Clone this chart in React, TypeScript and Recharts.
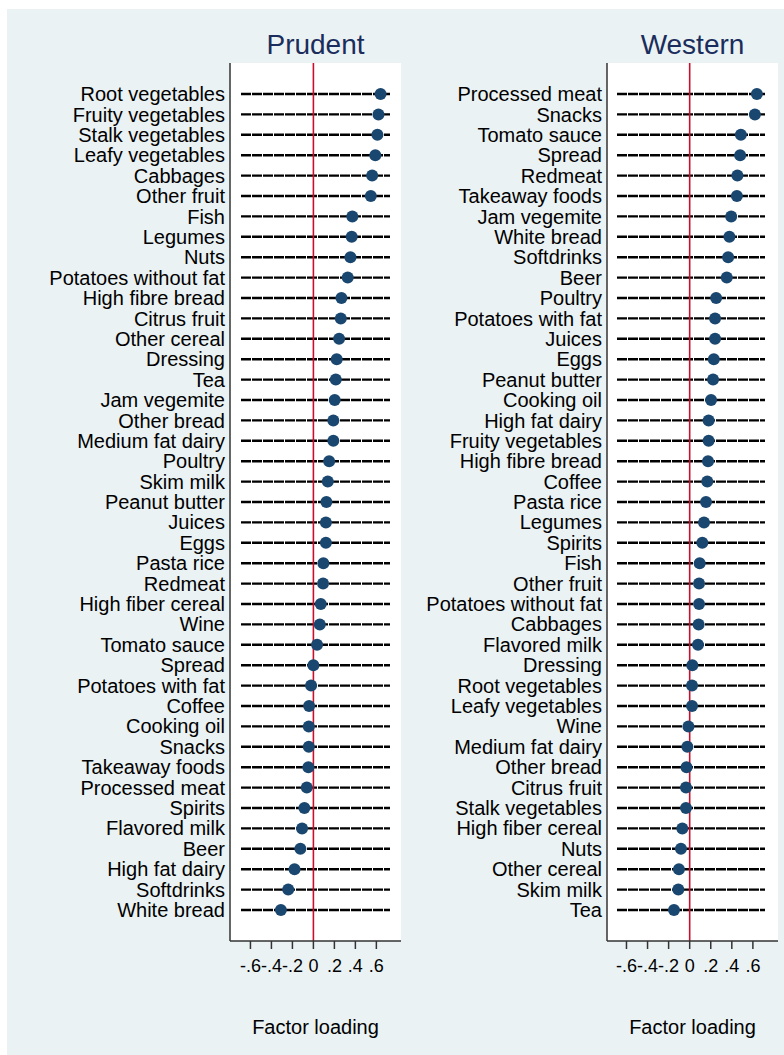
import React from 'react';
import { ScatterChart, Scatter, XAxis, YAxis, CartesianGrid, ReferenceLine, Label } from 'recharts';

const prudentFoods = [
  'Root vegetables', 'Fruity vegetables', 'Stalk vegetables', 'Leafy vegetables', 'Cabbages',
  'Other fruit', 'Fish', 'Legumes', 'Nuts', 'Potatoes without fat', 'High fibre bread',
  'Citrus fruit', 'Other cereal', 'Dressing', 'Tea', 'Jam vegemite', 'Other bread',
  'Medium fat dairy', 'Poultry', 'Skim milk', 'Peanut butter', 'Juices', 'Eggs', 'Pasta rice',
  'Redmeat', 'High fiber cereal', 'Wine', 'Tomato sauce', 'Spread', 'Potatoes with fat',
  'Coffee', 'Cooking oil', 'Snacks', 'Takeaway foods', 'Processed meat', 'Spirits',
  'Flavored milk', 'Beer', 'High fat dairy', 'Softdrinks', 'White bread',
];
const prudentLoadings = [
  0.64, 0.62, 0.61, 0.59, 0.56, 0.547, 0.371, 0.365, 0.353, 0.327, 0.267, 0.261, 0.245,
  0.222, 0.213, 0.203, 0.19, 0.19, 0.15, 0.137, 0.124, 0.119, 0.119, 0.095, 0.092, 0.07,
  0.061, 0.035, 0.0, -0.022, -0.041, -0.044, -0.044, -0.048, -0.063, -0.086, -0.108,
  -0.124, -0.18, -0.24, -0.31,
];

const westernFoods = [
  'Processed meat', 'Snacks', 'Tomato sauce', 'Spread', 'Redmeat', 'Takeaway foods',
  'Jam vegemite', 'White bread', 'Softdrinks', 'Beer', 'Poultry', 'Potatoes with fat',
  'Juices', 'Eggs', 'Peanut butter', 'Cooking oil', 'High fat dairy', 'Fruity vegetables',
  'High fibre bread', 'Coffee', 'Pasta rice', 'Legumes', 'Spirits', 'Fish', 'Other fruit',
  'Potatoes without fat', 'Cabbages', 'Flavored milk', 'Dressing', 'Root vegetables',
  'Leafy vegetables', 'Wine', 'Medium fat dairy', 'Other bread', 'Citrus fruit',
  'Stalk vegetables', 'High fiber cereal', 'Nuts', 'Other cereal', 'Skim milk', 'Tea',
];
const westernLoadings = [
  0.638, 0.619, 0.486, 0.479, 0.453, 0.448, 0.394, 0.377, 0.365, 0.352, 0.251, 0.241,
  0.241, 0.229, 0.222, 0.203, 0.18, 0.18, 0.174, 0.167, 0.155, 0.136, 0.12, 0.095, 0.089,
  0.089, 0.085, 0.079, 0.025, 0.022, 0.022, -0.012, -0.022, -0.03, -0.035, -0.035, -0.07,
  -0.083, -0.102, -0.108, -0.149,
];

const xTicks = [-0.6, -0.4, -0.2, 0, 0.2, 0.4, 0.6];
const xTickLabels = ['-.6', '-.4', '-.2', '0', '.2', '.4', '.6'];

const FONT = '"Liberation Sans", Arial, Helvetica, sans-serif';
const BG = '#eaf2f3';
const NAVY = '#1a476f';
const RED = '#c8102e';
const AXIS = '#333333';

interface PanelProps {
  title: string;
  foods: string[];
  loadings: number[];
  left: number;
  width: number;
  yAxisWidth: number;
  domain: [number, number];
  padLeft: number;
  padRight: number;
}

const Dot = (props: any) => <circle cx={props.cx} cy={props.cy} r={6} fill={NAVY} />;

const Panel: React.FC<PanelProps> = ({ title, foods, loadings, left, width, yAxisWidth, domain, padLeft, padRight }) => {
  // rows as positions 0..n-1, top to bottom
  const data = foods.map((name, i) => ({ row: i, name, value: loadings[i] }));
  const rows = data.map(d => d.row);
  const plotCenter = yAxisWidth + (width - yAxisWidth - 6) / 2;

  return (
    <div style={{ position: 'absolute', left, top: 0, width, height: 1046 }}>
      <div
        style={{
          position: 'absolute', left: plotCenter - 100, width: 200, top: 22, textAlign: 'center',
          fontFamily: FONT, fontSize: 28, lineHeight: '28px', color: '#1a2d5c',
        }}
      >
        {title}
      </div>
      <ScatterChart width={width} height={1046} margin={{ top: 54, right: 6, bottom: 0, left: 0 }}>
        <CartesianGrid horizontal={false} vertical={false} fill="#ffffff" fillOpacity={1} />
        {rows.map(r => (
          <ReferenceLine
            key={r}
            segment={[{ x: domain[0], y: r }, { x: domain[1], y: r }]}
            stroke="#000"
            strokeWidth={2.4}
            strokeDasharray="10 1"
          />
        ))}
        <ReferenceLine x={0} stroke={RED} strokeWidth={1.6} />
        <XAxis
          type="number"
          dataKey="value"
          domain={domain}
          ticks={xTicks}
          tickFormatter={(v: number) => xTickLabels[xTicks.indexOf(v)] ?? ''}
          padding={{ left: padLeft, right: padRight }}
          height={114}
          tickSize={8}
          tickMargin={10}
          axisLine={{ stroke: AXIS, strokeWidth: 1.5 }}
          tickLine={{ stroke: AXIS, strokeWidth: 1.5 }}
          tick={{ fontSize: 18, fill: '#000', fontFamily: FONT }}
          interval={0}
        >
          <Label value="Factor loading" position="insideBottom" offset={21} fill="#000" fontSize={20} fontFamily={FONT} />
        </XAxis>
        <YAxis
          type="number"
          dataKey="row"
          reversed
          domain={[-1.52, foods.length - 1 + 1.52]}
          ticks={rows}
          tickFormatter={(v: number) => foods[v] ?? ''}
          width={yAxisWidth}
          interval={0}
          tickLine={false}
          tickSize={0}
          tickMargin={5}
          axisLine={{ stroke: AXIS, strokeWidth: 1.5 }}
          tick={{ fontSize: 20, fill: '#000', fontFamily: FONT }}
        />
        <Scatter data={data} shape={Dot} isAnimationActive={false} />
      </ScatterChart>
    </div>
  );
};

export default function App() {
  return (
    <div style={{ position: 'absolute', left: 7, top: 9, width: 777, height: 1046, background: BG, overflow: 'hidden' }}>
      <Panel
        title="Prudent"
        foods={prudentFoods}
        loadings={prudentLoadings}
        left={0}
        width={400}
        yAxisWidth={223}
        domain={[-0.69, 0.73]}
        padLeft={11}
        padRight={11}
      />
      <Panel
        title="Western"
        foods={westernFoods}
        loadings={westernLoadings}
        left={400}
        width={377}
        yAxisWidth={200}
        domain={[-0.69, 0.715]}
        padLeft={10}
        padRight={13}
      />
    </div>
  );
}
